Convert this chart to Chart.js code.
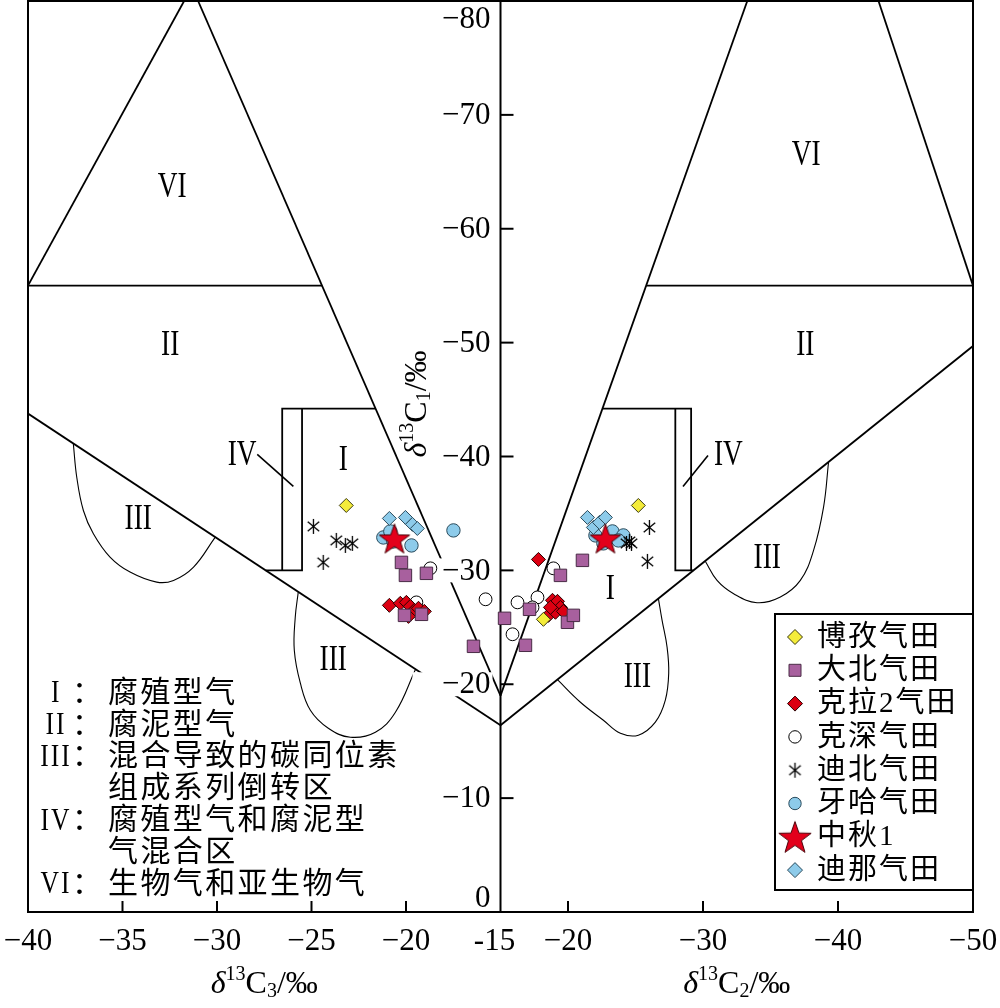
<!DOCTYPE html>
<html>
<head>
<meta charset="utf-8">
<script src="https://cdn.jsdelivr.net/npm/chart.js@4.4.0/dist/chart.umd.min.js"></script>
<style>
  html, body { margin: 0; padding: 0; background: #fff; }
  #wrap { width: 1000px; height: 1008px; }
</style>
</head>
<body>
<div id="wrap"><canvas id="chart" width="1000" height="1008"></canvas></div>
<script>
// ---- axis ticks ----
const c3Ticks = [-40, -35, -30, -25, -20, -15];
const c2Ticks = [-20, -30, -40, -50];
const c1Ticks = [-80, -70, -60, -50, -40, -30, -20, -10, 0];

// ---- gas fields: [δ13C3, δ13C1] on the left, [δ13C2, δ13C1] on the right ----
const fieldNames = ['博孜气田', '大北气田', '克拉2气田', '克深气田', '迪北气田', '牙哈气田', '中秋1', '迪那气田'];

const bozi_C3 = [[-23.16, -35.7]];
const bozi_C2 = [[-25.21, -35.7], [-18.18, -25.7]];
const dabei_C3 = [[-20.24, -30.7], [-20.03, -29.56], [-18.92, -29.74], [-20.08, -26.05], [-19.18, -26.14], [-16.43, -23.33]];
const dabei_C2 = [[-21.07, -30.88], [-19.44, -29.56], [-17.15, -26.58], [-15.3, -25.79], [-19.96, -25.44], [-20.4, -26.05], [-16.85, -23.42]];
const kela2_C3 = [[-20.88, -26.93], [-20.3, -27.11], [-19.98, -27.19], [-19.77, -26.84], [-19.56, -26.49], [-19.87, -25.96], [-19.34, -26.67], [-19.03, -26.4]];
const kela2_C2 = [[-17.81, -30.96], [-18.85, -27.37], [-19.22, -27.28], [-19.44, -26.75], [-18.55, -26.05], [-19.07, -26.32], [-19.66, -26.4], [-18.7, -26.75]];
const keshen_C3 = [[-18.71, -30.18], [-15.79, -27.46], [-19.45, -27.19]];
const keshen_C2 = [[-18.92, -30.18], [-17.74, -27.63], [-16.26, -27.19], [-17.37, -26.75], [-15.89, -24.39]];
const dibei_C3 = [[-24.9, -33.86], [-23.69, -32.63], [-23.21, -32.19], [-22.84, -32.37], [-24.38, -30.7]];
const dibei_C2 = [[-26.03, -33.77], [-24.7, -32.37], [-24.33, -32.37], [-24.55, -32.54], [-25.88, -30.79]];
const yaha_C3 = [[-21.2, -32.89], [-20.83, -33.42], [-20.67, -32.54], [-19.71, -32.19], [-17.49, -33.51]];
const yaha_C2 = [[-22.03, -33.07], [-22.62, -32.37], [-23.29, -33.42], [-24.1, -33.07], [-23.73, -32.63]];
const zhongqiu1_C3 = [[-20.61, -32.81]];
const zhongqiu1_C2 = [[-22.77, -32.81]];
const dina_C3 = [[-20.88, -34.56], [-20.03, -34.65], [-19.66, -34.04], [-19.4, -33.68]];
const dina_C2 = [[-21.44, -34.65], [-21.88, -33.77], [-22.33, -34.21], [-22.77, -34.65]];

// ---- field boundaries (left: δ13C3, right: δ13C2; both vs δ13C1) ----
const left_lower = [[-40, -43.77], [-15, -16.4]];
const left_steep = [[-31.0, -80], [-15, -19.0]];
const left_triangle = [[-40, -55], [-31.74, -80]];
const left_top = [[-40, -55], [-24.43, -55]];
const left_IV_outer = [[-26.55, -30], [-26.55, -44.2], [-21.6, -44.2]];
const left_IV_inner = [[-25.5, -44.2], [-25.5, -30], [-27.42, -30]];
const left_IV_pointer = [[-27.87, -40.18], [-25.96, -37.37]];
const left_III_upper = [[-37.6, -41.1], [-37.42, -38.18], [-37.07, -35.26], [-36.54, -33.22], [-35.66, -31.17], [-34.6, -29.85], [-33.19, -28.97], [-32.3, -29.12], [-31.24, -30.29], [-30.1, -32.9]];
const left_III_lower = [[-25.7, -28.1], [-25.86, -25.88], [-25.91, -22.98], [-25.59, -20.09], [-25.06, -17.72], [-24.11, -16.14], [-22.94, -15.35], [-21.62, -15.79], [-20.56, -17.54], [-19.5, -21.3]];

const right_lower = [[-15, -16.4], [-50, -49.7]];
const right_steep = [[-33.28, -80], [-15, -19.0]];
const right_triangle = [[-43, -80], [-50, -55]];
const right_top = [[-25.79, -55], [-50, -55]];
const right_IV_outer = [[-22.55, -44.2], [-29.12, -44.2], [-29.12, -30]];
const right_IV_inner = [[-27.95, -44.2], [-27.95, -30], [-29.29, -30]];
const right_IV_pointer = [[-28.52, -37.37], [-30.37, -40.09]];
const right_III_upper = [[-30.17, -30.8], [-31.04, -29.12], [-32.27, -27.95], [-34.0, -27.16], [-35.73, -27.66], [-37.21, -29.12], [-38.19, -31.75], [-38.93, -35.55], [-39.3, -39.5]];
const right_III_lower = [[-26.7, -27.5], [-26.97, -25.61], [-27.34, -23.25], [-27.46, -20.96], [-27.21, -18.6], [-26.47, -16.67], [-25.21, -15.53], [-23.88, -15.7], [-22.62, -16.84], [-20.92, -18.42], [-19.22, -20.4]];

// ---- the two halves share one x axis: 0..1 is δ13C3 (-40..-15), 1..2 is δ13C2 (-15..-50) ----
const fromC3 = v => (v + 40) / 25;
const fromC2 = v => 1 + (v + 15) / -35;
const leftPts = arr => arr.map(p => ({ x: fromC3(p[0]), y: p[1] }));
const rightPts = arr => arr.map(p => ({ x: fromC2(p[0]), y: p[1] }));

const minus = v => v === 0 ? '0' : '\u2212' + Math.abs(v);
const xTickVals = c3Ticks.map(fromC3).concat(c2Ticks.map(fromC2));
const xTickText = c3Ticks.map(v => v === -15 ? '-15' : minus(v)).concat(c2Ticks.map(minus));

// ---- marker images ----
function makeStar(R, fill, stroke) {
  const s = Math.ceil(R * 2 + 4);
  const c = document.createElement('canvas'); c.width = c.height = s;
  const g = c.getContext('2d');
  const cx = s / 2, cy = s / 2 + R * 0.1, r = R * 0.4;
  g.beginPath();
  for (let i = 0; i < 10; i++) {
    const a = -Math.PI / 2 + i * Math.PI / 5, rr = i % 2 ? r : R;
    g.lineTo(cx + rr * Math.cos(a), cy + rr * Math.sin(a));
  }
  g.closePath();
  g.fillStyle = fill; g.fill();
  g.lineWidth = 1; g.strokeStyle = stroke; g.stroke();
  return c;
}
function makeAsterisk(r) {
  const s = Math.ceil(r * 2 + 4);
  const c = document.createElement('canvas'); c.width = c.height = s;
  const g = c.getContext('2d');
  g.strokeStyle = '#000'; g.lineWidth = 1.3;
  [90, 40, -40].forEach(d => {
    const a = d * Math.PI / 180;
    g.beginPath();
    g.moveTo(s / 2 - r * Math.cos(a), s / 2 - r * Math.sin(a));
    g.lineTo(s / 2 + r * Math.cos(a), s / 2 + r * Math.sin(a));
    g.stroke();
  });
  return c;
}
const starImg = makeStar(16, '#E3001B', '#4a0008');
const starLegendImg = makeStar(17, '#E3001B', '#4a0008');
const asteriskImg = makeAsterisk(7.5);

const YELLOW = '#F4EC3A', PURPLE = '#A8609E', RED = '#DC0012', BLUE = '#8DCBEA';
const styles = [
  { pointStyle: 'rectRot', radius: 7, fill: YELLOW, stroke: '#3a3a10', order: 2 },
  { pointStyle: 'rect', radius: 8.8, fill: PURPLE, stroke: '#4a2c47', order: 2 },
  { pointStyle: 'rectRot', radius: 7, fill: RED, stroke: '#2a0000', order: 3 },
  { pointStyle: 'circle', radius: 6.4, fill: '#FFFFFF', stroke: '#000', order: 4 },
  { pointStyle: asteriskImg, radius: 8, fill: '#000', stroke: '#000', order: 5 },
  { pointStyle: 'circle', radius: 6.7, fill: BLUE, stroke: '#2b4b5c', order: 5 },
  { pointStyle: starImg, radius: 15, fill: '#E3001B', stroke: '#4a0008', order: 0 },
  { pointStyle: 'rectRot', radius: 7, fill: BLUE, stroke: '#2b4b5c', order: 1 }
];
const fieldData = [
  [bozi_C3, bozi_C2], [dabei_C3, dabei_C2], [kela2_C3, kela2_C2], [keshen_C3, keshen_C2],
  [dibei_C3, dibei_C2], [yaha_C3, yaha_C2], [zhongqiu1_C3, zhongqiu1_C2], [dina_C3, dina_C2]
];

const pointSets = fieldNames.map((name, i) => ({
  label: name,
  kind: 'pts',
  data: leftPts(fieldData[i][0]).concat(rightPts(fieldData[i][1])),
  pointStyle: styles[i].pointStyle,
  pointRadius: styles[i].radius,
  backgroundColor: styles[i].fill,
  borderColor: styles[i].stroke,
  borderWidth: 1,
  order: styles[i].order
}));

function boundary(data, width, curved) {
  return { kind: 'line', data, showLine: true, pointRadius: 0, borderColor: '#000',
    borderWidth: width, tension: curved ? 0.4 : 0, fill: false, order: 10 };
}
const lineSets = [
  boundary(leftPts(left_lower), 1.8), boundary(leftPts(left_steep), 1.8),
  boundary(leftPts(left_triangle), 1.8), boundary(leftPts(left_top), 1.8),
  boundary(leftPts(left_IV_outer), 1.8), boundary(leftPts(left_IV_inner), 1.8),
  boundary(leftPts(left_IV_pointer), 1.6),
  boundary(leftPts(left_III_upper), 1.1, true), boundary(leftPts(left_III_lower), 1.1, true),
  boundary(rightPts(right_lower), 1.8), boundary(rightPts(right_steep), 1.8),
  boundary(rightPts(right_triangle), 1.8), boundary(rightPts(right_top), 1.8),
  boundary(rightPts(right_IV_outer), 1.8), boundary(rightPts(right_IV_inner), 1.8),
  boundary(rightPts(right_IV_pointer), 1.6),
  boundary(rightPts(right_III_upper), 1.1, true), boundary(rightPts(right_III_lower), 1.1, true)
];

// region labels, placed in data units of each half
const regionLabels = [
  { t: 'VI', side: 'L', x: -32.37, y: -63.6 }, { t: 'II', side: 'L', x: -32.48, y: -49.74 },
  { t: 'III', side: 'L', x: -34.17, y: -34.47 }, { t: 'I', side: 'L', x: -23.32, y: -39.65 },
  { t: 'IV', side: 'L', x: -28.67, y: -40.09 }, { t: 'III', side: 'L', x: -23.85, y: -22.02 },
  { t: 'VI', side: 'R', x: -37.65, y: -66.4 }, { t: 'II', side: 'R', x: -37.58, y: -49.74 },
  { t: 'IV', side: 'R', x: -31.88, y: -40.09 }, { t: 'III', side: 'R', x: -34.76, y: -31.05 },
  { t: 'III', side: 'R', x: -25.14, y: -20.53 }, { t: 'I', side: 'R', x: -23.14, y: -28.33 }
];

const notes = [
  ['I', '：', '腐殖型气'],
  ['II', '：', '腐泥型气'],
  ['III', '：', '混合导致的碳同位素'],
  ['', '', '组成系列倒转区'],
  ['IV', '：', '腐殖型气和腐泥型'],
  ['', '', '气混合区'],
  ['VI', '：', '生物气和亚生物气']
];

const SERIF = '"Liberation Serif", "Times New Roman", serif';
const CJK = '"Liberation Serif", "Noto Sans CJK SC", sans-serif';

function seg(ctx, x1, y1, x2, y2) { ctx.beginPath(); ctx.moveTo(x1, y1); ctx.lineTo(x2, y2); ctx.stroke(); }

function roman(ctx, t, x, y, size, sx) {
  ctx.save();
  ctx.translate(x, y); ctx.scale(sx, 1);
  ctx.font = size + 'px ' + SERIF;
  ctx.textAlign = 'center'; ctx.textBaseline = 'middle';
  ctx.fillStyle = '#000';
  ctx.fillText(t, 0, 0);
  ctx.restore();
}

// δ13Cn/‰ title, centred on (cx, cy)
function deltaTitle(ctx, cx, cy, n) {
  const parts = [
    { s: 'δ', f: 'italic 32px ' + SERIF, dy: 0 },
    { s: '13', f: '20px ' + SERIF, dy: -10 },
    { s: 'C', f: '32px ' + SERIF, dy: 0 },
    { s: n, f: '20px ' + SERIF, dy: 7 },
    { s: '/‰', f: '32px ' + SERIF, dy: 0 }
  ];
  let w = 0;
  parts.forEach(p => { ctx.font = p.f; p.w = ctx.measureText(p.s).width; w += p.w; });
  let x = cx - w / 2;
  ctx.textAlign = 'left'; ctx.textBaseline = 'middle'; ctx.fillStyle = '#000';
  parts.forEach(p => { ctx.font = p.f; ctx.fillText(p.s, x, cy + p.dy); x += p.w; });
}

function marker(ctx, i, x, y) {
  const st = styles[i];
  ctx.save();
  ctx.fillStyle = st.fill; ctx.strokeStyle = st.stroke; ctx.lineWidth = 1;
  ctx.beginPath();
  if (i === 6) { ctx.drawImage(starLegendImg, x - starLegendImg.width / 2, y - starLegendImg.height / 2); ctx.restore(); return; }
  if (i === 4) { ctx.drawImage(asteriskImg, x - asteriskImg.width / 2, y - asteriskImg.height / 2); ctx.restore(); return; }
  if (st.pointStyle === 'rectRot') {
    const r = 7.5;
    ctx.moveTo(x - r, y); ctx.lineTo(x, y - r); ctx.lineTo(x + r, y); ctx.lineTo(x, y + r); ctx.closePath();
  } else if (st.pointStyle === 'rect') {
    ctx.rect(x - 6, y - 6, 12, 12);
  } else {
    ctx.arc(x, y, 6.2, 0, Math.PI * 2);
  }
  ctx.fill(); ctx.stroke();
  ctx.restore();
}

let axisDrawn = false;
const overlay = {
  id: 'overlay',
  beforeDatasetsDraw() { axisDrawn = false; },
  beforeDatasetDraw(chart, args) {
    if (axisDrawn || chart.data.datasets[args.index].kind !== 'pts') return;
    axisDrawn = true;
    const ctx = chart.ctx, xs = chart.scales.x, ys = chart.scales.y, a = chart.chartArea;
    const xc = xs.getPixelForValue(1);
    ctx.save();
    ctx.strokeStyle = '#000'; ctx.lineWidth = 2;
    seg(ctx, xc, a.top, xc, a.bottom);
    c1Ticks.forEach(v => {
      if (v === -80 || v === 0) return;
      const y = ys.getPixelForValue(v);
      seg(ctx, xc, y, xc + 13, y);
    });
    ctx.font = '31px ' + SERIF;
    ctx.textAlign = 'right'; ctx.textBaseline = 'middle';
    c1Ticks.forEach(v => {
      let y = ys.getPixelForValue(v);
      if (v === -80) y = a.top + 18;
      if (v === 0) y = a.bottom - 14;
      ctx.fillStyle = '#fff';
      ctx.fillRect(xc - 88, y - 12, 80, 24);
      ctx.fillStyle = '#000';
      ctx.fillText(minus(v), xc - 10, y + 1);
    });
    // y title
    ctx.save();
    ctx.translate(418, 404); ctx.rotate(-Math.PI / 2);
    deltaTitle(ctx, 0, 0, '1');
    ctx.restore();
    // region labels
    regionLabels.forEach(l => {
      const px = xs.getPixelForValue(l.side === 'L' ? fromC3(l.x) : fromC2(l.x));
      const py = ys.getPixelForValue(l.y);
      roman(ctx, l.t, px, py, 35, 0.78);
    });
    ctx.restore();
  },
  afterDatasetsDraw(chart) {
    const ctx = chart.ctx, xs = chart.scales.x, a = chart.chartArea;
    ctx.save();
    ctx.strokeStyle = '#000'; ctx.lineWidth = 2;
    ctx.strokeRect(a.left, a.top, a.right - a.left, a.bottom - a.top);
    // inward tick marks and labels on the bottom axis
    ctx.font = '31px ' + SERIF;
    ctx.textAlign = 'center'; ctx.textBaseline = 'middle'; ctx.fillStyle = '#000';
    xTickVals.forEach((u, i) => {
      const x = xs.getPixelForValue(u);
      if (i !== 0 && i !== c3Ticks.length - 1 && i !== xTickVals.length - 1) seg(ctx, x, a.bottom, x, a.bottom - 11);
      ctx.fillText(xTickText[i], i === c3Ticks.length - 1 ? x - 6 : x, a.bottom + 30);
    });
    // axis titles
    deltaTitle(ctx, (xs.getPixelForValue(0) + xs.getPixelForValue(1)) / 2, 985, '3');
    deltaTitle(ctx, (xs.getPixelForValue(1) + xs.getPixelForValue(2)) / 2, 985, '2');

    // legend of gas fields
    const lx = 775, ly = 614, lw = a.right - lx, lh = 276;
    ctx.fillStyle = '#fff';
    ctx.fillRect(lx, ly, lw, lh);
    ctx.strokeRect(lx, ly, lw, lh);
    ctx.font = '29px ' + CJK;
    ctx.textAlign = 'left'; ctx.textBaseline = 'middle';
    if ('letterSpacing' in ctx) ctx.letterSpacing = '2px';
    fieldNames.forEach((n, i) => {
      const y = ly + 23 + i * 33.3;
      marker(ctx, i, 795, y);
      ctx.fillStyle = '#000';
      ctx.fillText(n, 817, y + 1);
    });

    // notes at lower left
    notes.forEach((row, i) => {
      const y = 694 + i * 31.8;
      if (row[0]) roman(ctx, row[0], 56, y, 32, 0.8);
      ctx.font = '30px ' + CJK;
      ctx.fillStyle = '#000';
      if ('letterSpacing' in ctx) ctx.letterSpacing = '0px';
      ctx.textAlign = 'left';
      if (row[1]) ctx.fillText(row[1], 72, y);
      if ('letterSpacing' in ctx) ctx.letterSpacing = '2.4px';
      ctx.fillText(row[2], 108, y);
    });
    if ('letterSpacing' in ctx) ctx.letterSpacing = '0px';
    ctx.restore();
  }
};

new Chart(document.getElementById('chart'), {
  type: 'scatter',
  data: { datasets: pointSets.concat(lineSets) },
  options: {
    responsive: false,
    animation: false,
    events: [],
    layout: { autoPadding: false, padding: { left: 28, right: 27, top: 1, bottom: 96 } },
    plugins: { legend: { display: false }, tooltip: { enabled: false } },
    scales: {
      x: { type: 'linear', min: 0, max: 2, display: false },
      y: { type: 'linear', min: -80, max: 0, reverse: true, display: false }
    }
  },
  plugins: [overlay]
});
</script>
</body>
</html>
